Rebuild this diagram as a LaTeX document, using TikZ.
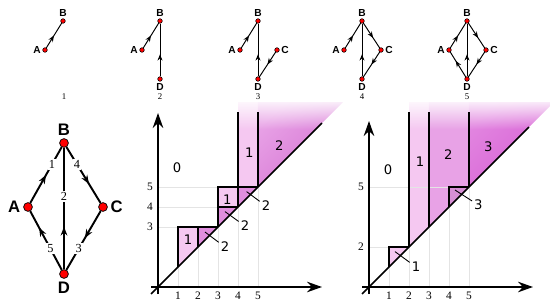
\documentclass[tikz,border=0pt]{standalone}
\usepackage{fontspec}
\setmainfont{Liberation Serif}
\setsansfont{DejaVu Sans}
\newfontfamily\vertexfont{Liberation Sans}
\usetikzlibrary{arrows.meta,decorations.markings,fadings}

\definecolor{rankone}{HTML}{F5C8F1}
\definecolor{ranktwo}{HTML}{E8A2E6}
\definecolor{ranktwobox}{HTML}{E08EDE}
\definecolor{ranktwodeep}{HTML}{D472D2}
\definecolor{rankthree}{HTML}{D65ED4}
\definecolor{rankthreelight}{HTML}{E286E0}
\definecolor{rankthreebox}{HTML}{D78FD5}
\definecolor{gridgray}{HTML}{E4E4E4}

\tikzset{
  vertex/.style={circle, draw, line width=0.4pt, fill=red, inner sep=0pt, minimum size=5pt},
  tinyvertex/.style={circle, draw, line width=0.3pt, fill=red, inner sep=0pt, minimum size=2.6pt},
  vname/.style={font=\vertexfont\bfseries\fontsize{9.5}{10}\selectfont, inner sep=1.5pt},
  tinyname/.style={font=\vertexfont\bfseries\fontsize{5.8}{6}\selectfont, inner sep=0.8pt},
  flowedge/.style={line width=1.1pt},
  tinyedge/.style={line width=0.55pt},
  tipat/.style={postaction={decorate}, decoration={markings,
      mark=at position #1 with {\arrow{Stealth[length=5pt,width=3.8pt]}}}},
  tinytipat/.style={postaction={decorate}, decoration={markings,
      mark=at position #1 with {\arrow{Stealth[length=3.6pt,width=2.8pt]}}}},
  elabel/.style={fill=white, inner sep=0.7pt, font=\fontsize{7}{8}\selectfont},
  stepnum/.style={font=\fontsize{5}{5}\selectfont, inner sep=0pt},
  axis/.style={line width=0.85pt, -{Stealth[length=8.5pt,width=6pt]}},
  bar/.style={line width=0.8pt},
  gridline/.style={gridgray, line width=0.4pt},
  tick/.style={font=\fontsize{6.5}{7}\selectfont, inner sep=0pt},
  region/.style={font=\sffamily\fontsize{7.5}{8}\selectfont, inner sep=1pt},
  leader/.style={line width=0.5pt},
  topfade/.style={white, path fading=south}
}

\begin{document}
\begin{tikzpicture}[x=0.02cm, y=0.02cm]
  \useasboundingbox (0,0) rectangle (550,304);

  % first diagram
  \begin{scope}[shift={(158,17)}, x=0.4cm, y=0.4cm]
    \fill[rankone] (1,1) -- (1,3) -- (2,3) -- (2,2) -- cycle;
    \fill[ranktwobox] (2,2) -- (2,3) -- (3,3) -- cycle;
    \fill[ranktwobox] (3,3) -- (3,4) -- (4,4) -- cycle;
    \fill[rankone] (3,4) rectangle (4,5);
    \fill[ranktwobox] (4,4) -- (4,5) -- (5,5) -- cycle;
    \fill[rankone] (4,5) rectangle (5,9.25);
    \shade[top color=ranktwo, bottom color=ranktwodeep, shading angle=45]
      (5,5) -- (5,9.25) -- (9.25,9.25) -- cycle;
    \fill[topfade] (4,7.9) rectangle (9.4,9.5);

    \foreach \k in {1,...,5} \draw[gridline] (\k,0) -- (\k,\k);
    \draw[gridline] (0,3) -- (1,3);
    \draw[gridline] (0,4) -- (3,4);
    \draw[gridline] (0,5) -- (3,5);

    \draw[bar] (1,1) -- (1,3) -- (3,3);
    \draw[bar] (2,2) -- (2,3);
    \draw[bar] (3,3) -- (3,5) -- (5,5);
    \draw[bar] (3,4) -- (4,4);
    \draw[bar] (4,4) -- (4,8.75);
    \draw[bar] (5,5) -- (5,8.75);
    \draw[line width=0.9pt] (-0.35,-0.35) -- (8.2,8.2);

    \draw[axis] (-0.35,0) -- (8.2,0);
    \draw[axis] (0,-0.35) -- (0,8.7);
    \foreach \k in {1,...,5} \node[tick] at (\k,-0.45) {\k};
    \foreach \k in {3,4,5} \node[tick] at (-0.4,\k) {\k};

    \node (zeroL) [region] at (0.95,5.95) {0};
    \node (oneLa) [region] at (1.5,2.35) {1};
    \node (oneLb) [region] at (3.47,4.39) {1};
    \node (oneLc) [region] at (4.57,6.7) {1};
    \node (twoLw) [region] at (6.07,7.05) {2};
    \node (twoLa) [region] at (3.35,2.0) {2};
    \node (twoLb) [region] at (4.35,3.05) {2};
    \node (twoLc) [region] at (5.4,4.05) {2};
    \draw[leader] (2.35,2.75) -- (twoLa);
    \draw[leader] (3.35,3.77) -- (twoLb);
    \draw[leader] (4.43,4.77) -- (twoLc);
  \end{scope}

  % second diagram
  \begin{scope}[shift={(369,17)}, x=0.4cm, y=0.4cm]
    \fill[rankone] (1,1) -- (1,2) -- (2,2) -- cycle;
    \fill[rankone] (2,2) -- (2,9.25) -- (3,9.25) -- (3,3) -- cycle;
    \fill[ranktwo] (3,3) -- (3,9.25) -- (5,9.25) -- (5,5) -- (4,5) -- (4,4) -- cycle;
    \fill[rankthreebox] (4,4) -- (4,5) -- (5,5) -- cycle;
    \shade[top color=rankthreelight, bottom color=rankthree, shading angle=45]
      (5,5) -- (5,9.25) -- (9.25,9.25) -- cycle;
    \fill[topfade] (2,7.9) rectangle (9.4,9.5);

    \foreach \k in {1,...,5} \draw[gridline] (\k,0) -- (\k,\k);
    \draw[gridline] (0,2) -- (1,2);
    \draw[gridline] (0,5) -- (4,5);

    \draw[bar] (1,1) -- (1,2) -- (2,2);
    \draw[bar] (2,2) -- (2,8.75);
    \draw[bar] (3,3) -- (3,8.75);
    \draw[bar] (4,4) -- (4,5) -- (5,5);
    \draw[bar] (5,5) -- (5,8.75);
    \draw[line width=0.9pt] (-0.35,-0.35) -- (8.0,8.0);

    \draw[axis] (-0.35,0) -- (8.2,0);
    \draw[axis] (0,-0.35) -- (0,8.3);
    \foreach \k in {1,...,5} \node[tick] at (\k,-0.45) {\k};
    \foreach \k in {2,5} \node[tick] at (-0.4,\k) {\k};

    \node (zeroR) [region] at (0.95,5.85) {0};
    \node (oneRa) [region] at (2.55,6.27) {1};
    \node (twoR) [region] at (3.97,6.6) {2};
    \node (threeRw) [region] at (5.97,7.0) {3};
    \node (oneRb) [region] at (2.35,1.0) {1};
    \node (threeRb) [region] at (5.47,4.1) {3};
    \draw[leader] (1.3,1.77) -- (oneRb);
    \draw[leader] (4.3,4.85) -- (threeRb);
  \end{scope}

  % the five stages
  \node (B1) [tinyvertex, label={[tinyname]above:B}] at (63,283) {};
  \node (A1) [tinyvertex, label={[tinyname]left:A}] at (45,254) {};
  \draw[tinyedge, tinytipat=0.5] (A1) -- (B1);
  \node (step1) [stepnum] at (64,207) {1};

  \node (B2) [tinyvertex, label={[tinyname]above:B}] at (160,283) {};
  \node (A2) [tinyvertex, label={[tinyname]left:A}] at (142,254) {};
  \node (D2) [tinyvertex, label={[tinyname]below:D}] at (160,225) {};
  \draw[tinyedge, tinytipat=0.5] (A2) -- (B2);
  \draw[tinyedge, tinytipat=0.42] (D2) -- (B2);
  \node (step2) [stepnum] at (160,207) {2};

  \node (B3) [tinyvertex, label={[tinyname]above:B}] at (258,283) {};
  \node (A3) [tinyvertex, label={[tinyname]left:A}] at (240,254) {};
  \node (C3) [tinyvertex, label={[tinyname]right:C}] at (277,254) {};
  \node (D3) [tinyvertex, label={[tinyname]below:D}] at (258,225) {};
  \draw[tinyedge, tinytipat=0.5] (A3) -- (B3);
  \draw[tinyedge, tinytipat=0.42] (D3) -- (B3);
  \draw[tinyedge, tinytipat=0.5] (C3) -- (D3);
  \node (step3) [stepnum] at (258,207) {3};

  \node (B4) [tinyvertex, label={[tinyname]above:B}] at (362,283) {};
  \node (A4) [tinyvertex, label={[tinyname]left:A}] at (344,254) {};
  \node (C4) [tinyvertex, label={[tinyname]right:C}] at (381,254) {};
  \node (D4) [tinyvertex, label={[tinyname]below:D}] at (362,225) {};
  \draw[tinyedge, tinytipat=0.5] (A4) -- (B4);
  \draw[tinyedge, tinytipat=0.42] (D4) -- (B4);
  \draw[tinyedge, tinytipat=0.6] (B4) -- (C4);
  \draw[tinyedge, tinytipat=0.5] (C4) -- (D4);
  \node (step4) [stepnum] at (362,207) {4};

  \node (B5) [tinyvertex, label={[tinyname]above:B}] at (467,283) {};
  \node (A5) [tinyvertex, label={[tinyname]left:A}] at (449,254) {};
  \node (C5) [tinyvertex, label={[tinyname]right:C}] at (486,254) {};
  \node (D5) [tinyvertex, label={[tinyname]below:D}] at (467,225) {};
  \draw[tinyedge, tinytipat=0.5] (A5) -- (B5);
  \draw[tinyedge, tinytipat=0.42] (D5) -- (B5);
  \draw[tinyedge, tinytipat=0.6] (B5) -- (C5);
  \draw[tinyedge, tinytipat=0.5] (C5) -- (D5);
  \draw[tinyedge, tinytipat=0.65] (D5) -- (A5);
  \node (step5) [stepnum] at (467,207) {5};

  % the whole graph
  \node (B) [vertex, label={[vname]above:B}] at (64,161) {};
  \node (A) [vertex, label={[vname]left:A}] at (28,97) {};
  \node (C) [vertex, label={[vname]right:C}] at (103,97) {};
  \node (D) [vertex, label={[vname]below:D}] at (64,30) {};
  \draw[flowedge, tipat=0.5] (A) -- node[elabel, pos=0.69] (e1) {1} (B);
  \draw[flowedge, tipat=0.35] (D) -- node[elabel, pos=0.6] (e2) {2} (B);
  \draw[flowedge, tipat=0.46] (C) -- node[elabel, pos=0.64] (e3) {3} (D);
  \draw[flowedge, tipat=0.66] (B) -- node[elabel, pos=0.31] (e4) {4} (C);
  \draw[flowedge, tipat=0.72] (D) -- node[elabel, pos=0.36] (e5) {5} (A);
\end{tikzpicture}
\end{document}
